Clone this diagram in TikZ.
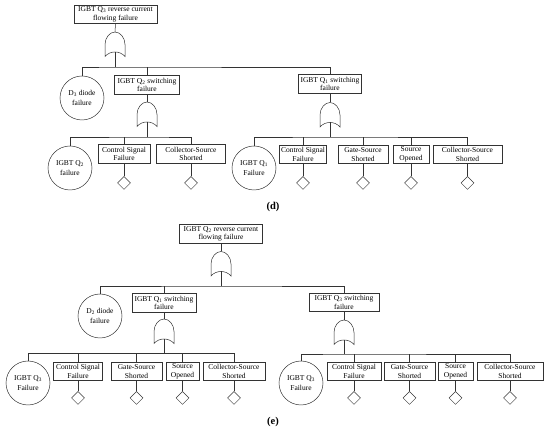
\documentclass[tikz,border=0pt]{standalone}
\usepackage{fontspec}
\setmainfont{Liberation Serif}
\usetikzlibrary{shapes.geometric}
\tikzset{
  gline/.style={draw=black!80, line width=0.5pt},
  ebox/.style={gline, rectangle, align=center, inner sep=0pt, minimum height=18.5pt,
    font=\fontsize{7.5}{8.6}\selectfont},
  ecirc/.style={gline, circle, align=center, inner sep=0pt, minimum size=44pt,
    font=\fontsize{7.5}{9.5}\selectfont},
  bevent/.style={gline, diamond, inner sep=0pt, minimum width=13pt, minimum height=13pt},
  lab/.style={font=\fontsize{10.5}{12}\selectfont\bfseries},
  orgate/.pic={
    \draw[gline] (-10,12) -- (-10,0) .. controls (-10,-7) and (-5,-12.5) .. (0,-12.5)
      .. controls (5,-12.5) and (10,-7) .. (10,0) -- (10,12)
      .. controls (5,6) and (-5,6) .. cycle;
    \coordinate (-top) at (0,-12.5);
    \coordinate (-bot) at (0,7.5);
  }
}
\newcommand{\Qs}[1]{Q\textsubscript{#1}}
\begin{document}
\begin{tikzpicture}[x=1pt,y=-1pt]
\useasboundingbox (0,0) rectangle (550,430);
% ---------------- (d) ----------------
\node[ebox, minimum width=83pt] (dtop) at (115.5,14.5) {IGBT \Qs{3} reverse current\\flowing failure};
\pic (dg1) at (115,44.5) {orgate};
\coordinate (db1) at (115,67);
\node[ecirc] (dd3) at (82,98) {D\textsubscript{3} diode\\failure};
\node[ebox, minimum width=65pt] (dsw2) at (147,85) {IGBT \Qs{2} switching\\failure};
\node[ebox, minimum width=63pt] (dsw1) at (330,84) {IGBT \Qs{1} switching\\failure};
\draw[gline] (dg1-top) -- (dtop.south);
\draw[gline] (dg1-bot) -- (db1);
\draw[gline] (dd3.north) |- (db1) -| (dsw1.north);
\draw[gline] (dsw2.north) -- (dsw2.north |- db1);
% left sub-tree
\pic (dg2) at (147,114.5) {orgate};
\coordinate (db2) at (147,137);
\node[ecirc] (dq2) at (70,168) {IGBT \Qs{2}\\failure};
\node[ebox, minimum width=52pt] (dcsfa) at (124,154) {Control Signal\\Failure};
\node[ebox, minimum width=69pt] (dcssa) at (191,154) {Collector-Source\\Shorted};
\node[bevent] (dma) at (124,183) {};
\node[bevent] (dmb) at (191,183) {};
\draw[gline] (dg2-top) -- (dsw2.south);
\draw[gline] (dg2-bot) -- (db2);
\draw[gline] (dq2.north) |- (db2) -| (dcssa.north);
\draw[gline] (dcsfa.north) -- (dcsfa.north |- db2);
\draw[gline] (dcsfa.south) -- (dma.north);
\draw[gline] (dcssa.south) -- (dmb.north);
% right sub-tree
\pic (dg3) at (330,115) {orgate};
\coordinate (db3) at (330,137);
\node[ecirc] (dq1) at (254,168) {IGBT \Qs{1}\\Failure};
\node[ebox, minimum width=47pt] (dcsfb) at (303,154.5) {Control Signal\\Failure};
\node[ebox, minimum width=50pt] (dgssb) at (363,154.5) {Gate-Source\\Shorted};
\node[ebox, minimum width=36pt] (dsob) at (411,154.5) {Source\\Opened};
\node[ebox, minimum width=69pt] (dcssb) at (467.5,154.5) {Collector-Source\\Shorted};
\node[bevent] (dmc) at (303,183) {};
\node[bevent] (dmd) at (363,183) {};
\node[bevent] (dme) at (411,183) {};
\node[bevent] (dmf) at (467.5,183) {};
\draw[gline] (dg3-top) -- (dsw1.south);
\draw[gline] (dg3-bot) -- (db3);
\draw[gline] (dq1.north) |- (db3) -| (dcssb.north);
\draw[gline] (dcsfb.north) -- (dcsfb.north |- db3);
\draw[gline] (dgssb.north) -- (dgssb.north |- db3);
\draw[gline] (dsob.north) -- (dsob.north |- db3);
\draw[gline] (dcsfb.south) -- (dmc.north);
\draw[gline] (dgssb.south) -- (dmd.north);
\draw[gline] (dsob.south) -- (dme.north);
\draw[gline] (dcssb.south) -- (dmf.north);
\node[lab] (dlab) at (273,207) {(d)};
% ---------------- (e) ----------------
\node[ebox, minimum width=83pt] (etop) at (221,234) {IGBT \Qs{2} reverse current\\flowing failure};
\pic (eg1) at (221,264) {orgate};
\coordinate (eb1) at (221,286);
\node[ecirc] (ed2) at (100,316) {D\textsubscript{2} diode\\failure};
\node[ebox, minimum width=64pt] (esw1) at (164,303) {IGBT \Qs{1} switching\\failure};
\node[ebox, minimum width=70pt] (esw3) at (344,302.5) {IGBT \Qs{3} switching\\failure};
\draw[gline] (eg1-top) -- (etop.south);
\draw[gline] (eg1-bot) -- (eb1);
\draw[gline] (ed2.north) |- (eb1) -| (esw3.north);
\draw[gline] (esw1.north) -- (esw1.north |- eb1);
% left sub-tree
\pic (eg2) at (164,331.5) {orgate};
\coordinate (eb2) at (164,353.5);
\node[ecirc] (eq3a) at (28,383) {IGBT \Qs{3}\\Failure};
\node[ebox, minimum width=49pt] (ecsfa) at (78,371.5) {Control Signal\\Failure};
\node[ebox, minimum width=51pt] (egssa) at (136.5,371.5) {Gate-Source\\Shorted};
\node[ebox, minimum width=33pt] (esoa) at (182.5,371.5) {Source\\Opened};
\node[ebox, minimum width=62pt] (ecssa) at (234,371.5) {Collector-Source\\Shorted};
\node[bevent] (ema) at (78,398) {};
\node[bevent] (emb) at (136.5,398) {};
\node[bevent] (emc) at (182.5,398) {};
\node[bevent] (emd) at (234,398) {};
\draw[gline] (eg2-top) -- (esw1.south);
\draw[gline] (eg2-bot) -- (eb2);
\draw[gline] (eq3a.north) |- (eb2) -| (ecssa.north);
\draw[gline] (ecsfa.north) -- (ecsfa.north |- eb2);
\draw[gline] (egssa.north) -- (egssa.north |- eb2);
\draw[gline] (esoa.north) -- (esoa.north |- eb2);
\draw[gline] (ecsfa.south) -- (ema.north);
\draw[gline] (egssa.south) -- (emb.north);
\draw[gline] (esoa.south) -- (emc.north);
\draw[gline] (ecssa.south) -- (emd.north);
% right sub-tree
\pic (eg3) at (344,332.5) {orgate};
\coordinate (eb3) at (344,354);
\node[ecirc] (eq3b) at (301,383) {IGBT \Qs{3}\\Failure};
\node[ebox, minimum width=54pt] (ecsfb) at (354,371.5) {Control Signal\\Failure};
\node[ebox, minimum width=51pt] (egssb) at (409.5,371.5) {Gate-Source\\Shorted};
\node[ebox, minimum width=35pt] (esob) at (455.5,371.5) {Source\\Opened};
\node[ebox, minimum width=66pt] (ecssb) at (510,371.5) {Collector-Source\\Shorted};
\node[bevent] (eme) at (354,398) {};
\node[bevent] (emf) at (409.5,398) {};
\node[bevent] (emg) at (455.5,398) {};
\node[bevent] (emh) at (510,398) {};
\draw[gline] (eg3-top) -- (esw3.south);
\draw[gline] (eg3-bot) -- (eb3);
\draw[gline] (eq3b.north) |- (eb3) -| (ecssb.north);
\draw[gline] (ecsfb.north) -- (ecsfb.north |- eb3);
\draw[gline] (egssb.north) -- (egssb.north |- eb3);
\draw[gline] (esob.north) -- (esob.north |- eb3);
\draw[gline] (ecsfb.south) -- (eme.north);
\draw[gline] (egssb.south) -- (emf.north);
\draw[gline] (esob.south) -- (emg.north);
\draw[gline] (ecssb.south) -- (emh.north);
\node[lab] (elab) at (273,422) {(e)};
\end{tikzpicture}
\end{document}
